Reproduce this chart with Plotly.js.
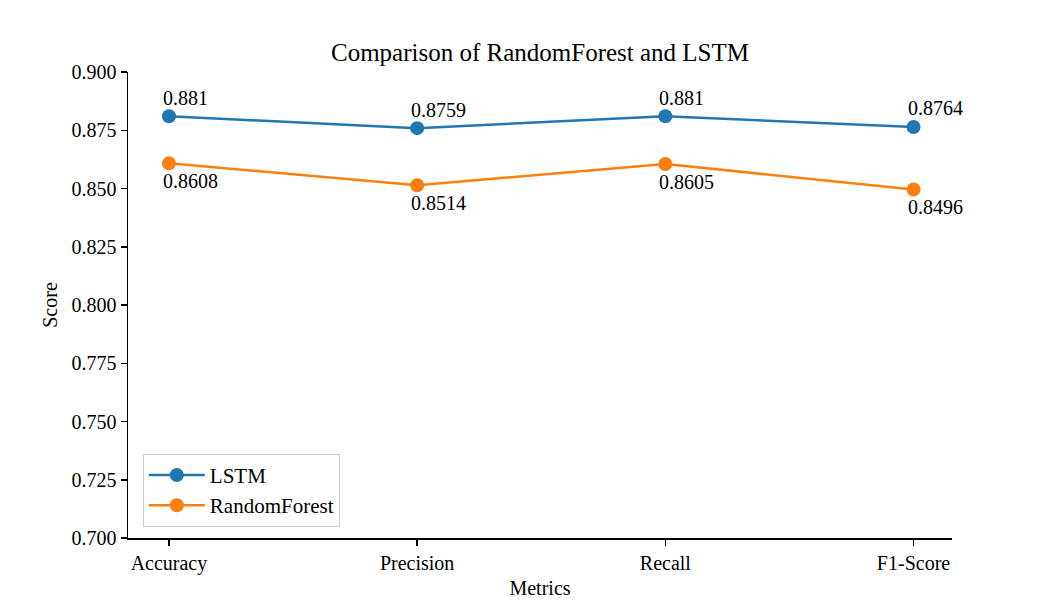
<!DOCTYPE html>
<html>
<head>
<meta charset="utf-8">
<script src="https://cdn.plot.ly/plotly-3.0.1.min.js"></script>
<style>html,body{margin:0;padding:0;background:#fff;}#chart{width:1058px;height:605px;}</style>
</head>
<body>
<div id="chart"></div>
<script>
const metrics = ["Accuracy", "Precision", "Recall", "F1-Score"];
const lstmScores = [0.881, 0.8759, 0.881, 0.8764];
const rfScores = [0.8608, 0.8514, 0.8605, 0.8496];
const lstmLabels = ["0.881", "0.8759", "0.881", "0.8764"];
const rfLabels = ["0.8608", "0.8514", "0.8605", "0.8496"];
const yTicks = [0.700, 0.725, 0.750, 0.775, 0.800, 0.825, 0.850, 0.875, 0.900];

const font = "Liberation Serif, serif";
const fs = 20;

const traces = [
  {x: metrics, y: lstmScores, name: "LSTM", mode: "lines+markers",
   line: {color: "#1f77b4", width: 2.5}, marker: {color: "#1f77b4", size: 14}},
  {x: metrics, y: rfScores, name: "RandomForest", mode: "lines+markers",
   line: {color: "#ff7f0e", width: 2.5}, marker: {color: "#ff7f0e", size: 14}}
];

const annotations = [];
metrics.forEach((m, i) => {
  annotations.push({x: i, y: lstmScores[i] + 0.005, xref: "x", yref: "y", text: lstmLabels[i],
    showarrow: false, xanchor: "left", yanchor: "bottom", xshift: -8, yshift: -6,
    font: {family: font, size: fs, color: "#000"}});
  annotations.push({x: i, y: rfScores[i] - 0.005, xref: "x", yref: "y", text: rfLabels[i],
    showarrow: false, xanchor: "left", yanchor: "top", xshift: -8, yshift: 7,
    font: {family: font, size: fs, color: "#000"}});
});

const layout = {
  width: 1058, height: 605,
  margin: {l: 128, r: 106, t: 72, b: 67},
  paper_bgcolor: "#fff", plot_bgcolor: "#fff",
  font: {family: font, size: fs, color: "#000"},
  title: {text: "Comparison of RandomForest and LSTM", x: 0.5104, xanchor: "center", y: 0.913, yanchor: "middle",
    font: {family: font, size: 25, color: "#000"}},
  xaxis: {type: "category", range: [-0.165, 3.155], showgrid: false, zeroline: false,
    showline: true, linecolor: "#000", linewidth: 1.5, ticks: "outside", ticklen: 6, tickwidth: 1.5, tickcolor: "#000",
    tickfont: {family: font, size: fs}, title: {text: "Metrics", standoff: 7, font: {family: font, size: fs}}},
  yaxis: {range: [0.7, 0.9], tickvals: yTicks, ticktext: yTicks.map(v => v.toFixed(3)),
    showgrid: false, zeroline: false, showline: true, linecolor: "#000", linewidth: 1.5,
    ticks: "outside", ticklen: 6, tickwidth: 1.5, tickcolor: "#000",
    tickfont: {family: font, size: fs}, title: {text: "Score", standoff: 8, font: {family: font, size: fs}}},
  showlegend: true,
  legend: {x: 0.018, y: 0.024, xanchor: "left", yanchor: "bottom", bgcolor: "rgba(255,255,255,0.8)",
    bordercolor: "#cccccc", borderwidth: 1, font: {family: font, size: 21}, tracegroupgap: 2, itemwidth: 56},
  annotations: annotations
};

Plotly.newPlot("chart", traces, layout, {displayModeBar: false, staticPlot: true});
</script>
</body>
</html>
